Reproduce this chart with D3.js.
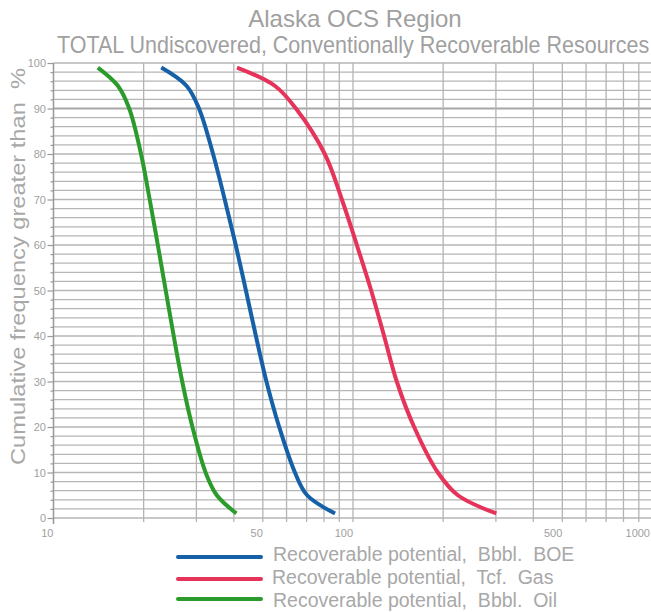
<!DOCTYPE html>
<html><head><meta charset="utf-8">
<script src="https://cdn.jsdelivr.net/npm/d3@7"></script>
<style>body{margin:0;background:#fff}svg{display:block}text{font-family:"Liberation Sans",Arial,sans-serif;white-space:pre}</style>
</head><body>
<script>
const percents = [99,95,90,80,70,60,50,40,30,20,10,5,1];
const boe = [22.9,27.8,30.6,34.1,37.3,40.6,43.9,47.4,51.4,56.7,64.0,70.3,87.1];
const gas = [41.0,54.8,64.5,80.5,91.8,103,115,127,140,160,192,224,301];
const oil = [14.06,16.4,17.9,19.6,20.95,22.3,23.7,25.2,26.9,29.1,32.2,35.1,40.8];
const xTickLabels = [10,50,100,500,1000];
const yTickLabels = [0,10,20,30,40,50,60,70,80,90,100];
const xGrid = [20,30,40,50,60,70,80,90,100,200,300,400,500,600,700,800,900,1000];
const legendLabels = ["Recoverable potential,  Bbbl.  BOE","Recoverable potential,  Tcf.  Gas","Recoverable potential,  Bbbl.  Oil"];
const colors = ["#1660a8","#e6335a","#2b9b2b"];
const series = [boe,gas,oil];

const W=651,H=612;
const svg=d3.select("body").append("svg").attr("width",W).attr("height",H);
const x=d3.scaleLog().domain([10,1000]).range([53.5,652.5]);
const y=d3.scaleLinear().domain([0,100]).range([518,63]);

// horizontal grid
const hg=d3.range(0,101,2);
svg.append("g").selectAll("line").data(hg).join("line")
  .attr("x1",x(10)).attr("x2",W).attr("y1",d=>y(d)).attr("y2",d=>y(d))
  .attr("stroke",d=>d===90?"#a6a6a6":"#b6b6b6").attr("stroke-width",d=>d===90?2.2:1.3);
// vertical grid
svg.append("g").selectAll("line").data(xGrid).join("line")
  .attr("x1",d=>x(d)).attr("x2",d=>x(d)).attr("y1",y(100)).attr("y2",522)
  .attr("stroke","#b4b4b4").attr("stroke-width",1.3);

// y axis
const ya=svg.append("g").attr("transform",`translate(${x(10)},0)`)
  .call(d3.axisLeft(y).tickValues(hg).tickSize(3).tickFormat(""));
ya.selectAll("line").attr("stroke","#999").attr("stroke-width",1.2);
ya.selectAll(".tick").filter(d=>d%10===0).select("line").attr("x2",-6);
ya.select(".domain").attr("stroke","#999").attr("stroke-width",1.5).attr("d",`M0,${y(100)}V524`);
svg.append("g").selectAll("text").data(yTickLabels).join("text")
  .attr("x",46).attr("y",d=>y(d)+4).attr("text-anchor","end")
  .attr("font-size",11).attr("fill","#a0a0a0").text(d=>d);

// x labels
svg.append("g").selectAll("text").data(xTickLabels).join("text")
  .attr("x",d=>d===1000?650:x(d)).attr("y",537)
  .attr("text-anchor","end")
  .attr("font-size",11).attr("fill","#a0a0a0").text(d=>d);

// curves
const line=d3.line().x(d=>x(d[0])).y(d=>y(d[1])).curve(d3.curveCatmullRom.alpha(0.5));
series.forEach((s,i)=>{
  svg.append("path").datum(s.map((v,j)=>[v,percents[j]]))
    .attr("d",line).attr("fill","none").attr("stroke",colors[i])
    .attr("stroke-width",4).attr("stroke-linejoin","round");
});

// titles
svg.append("text").attr("x",355).attr("y",27).attr("text-anchor","middle")
  .attr("font-size",24).attr("fill","#a0a0a0").text("Alaska OCS Region");
svg.append("text").attr("transform","translate(57,53) scale(0.915,1)")
  .attr("font-size",23.5).attr("fill","#a0a0a0")
  .text("TOTAL Undiscovered, Conventionally Recoverable Resources");
svg.append("text").attr("transform","translate(24.5,266.5) rotate(-90)")
  .attr("text-anchor","middle").attr("font-size",21).attr("fill","#a8a8a8")
  .attr("textLength",397).attr("lengthAdjust","spacingAndGlyphs")
  .text("Cumulative frequency greater than  %");

// legend
const ly=[557,579,599], ty=[561,584,607], tx=[273,272,273];
legendLabels.forEach((t,i)=>{
  svg.append("line").attr("x1",178).attr("x2",261).attr("y1",ly[i]).attr("y2",ly[i])
    .attr("stroke",colors[i]).attr("stroke-width",4).attr("stroke-linecap","round");
  svg.append("text").attr("x",tx[i]).attr("y",ty[i]).attr("font-size",19.5)
    .attr("fill","#a8a8a8").text(t);
});
</script>
</body></html>
